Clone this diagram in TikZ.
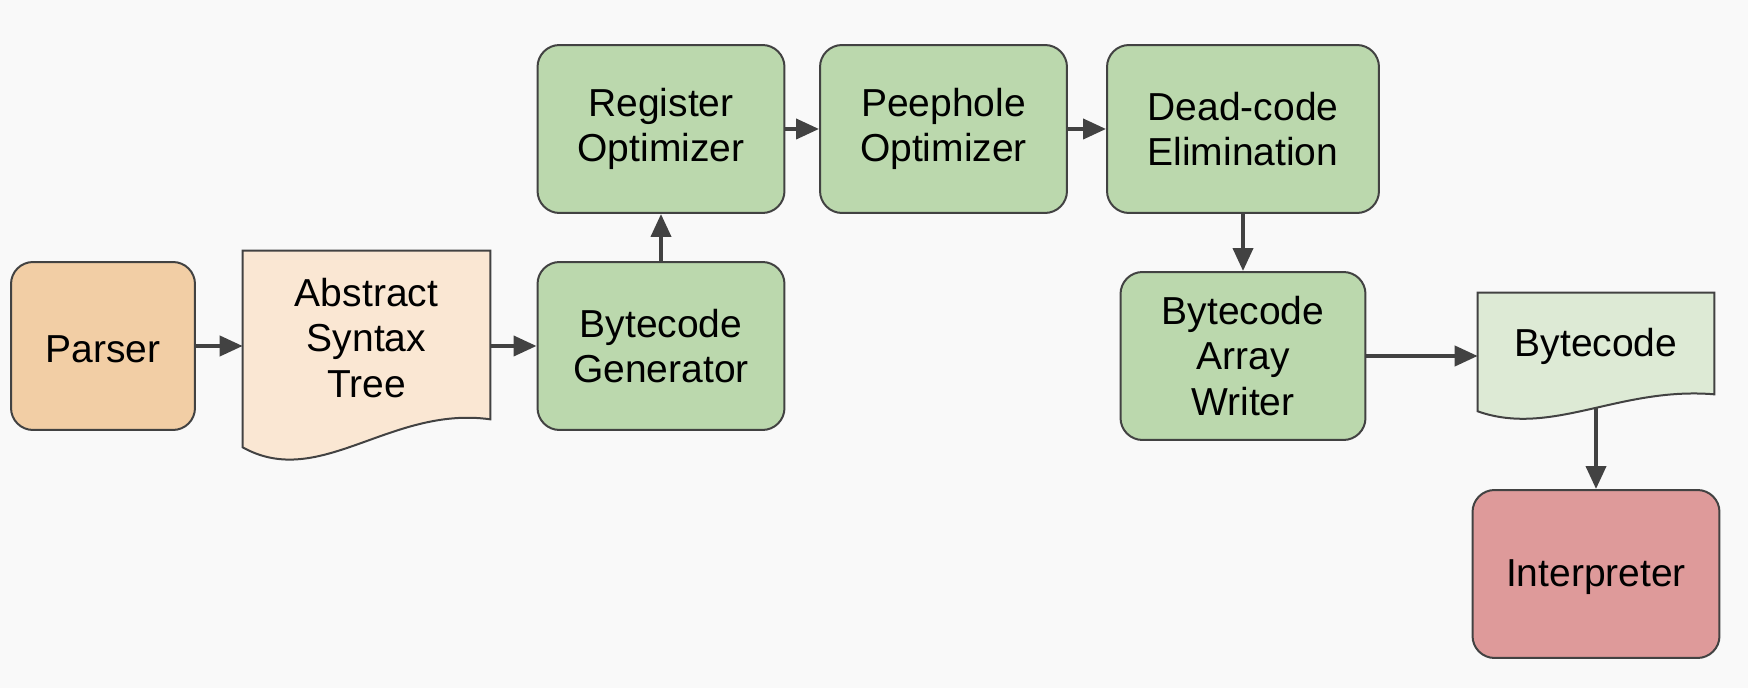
\documentclass[tikz,border=0pt]{standalone}
\usepackage{fontspec}
\setmainfont{Liberation Sans}
\usepackage{tikz}
\usetikzlibrary{arrows.meta,calc,backgrounds}
\usepackage{xcolor}

\definecolor{paperGray}{HTML}{F9F9F9}
\definecolor{lineGray}{HTML}{424242}
\definecolor{parserOrange}{HTML}{F2CEA5}
\definecolor{astOrange}{HTML}{FAE7D3}
\definecolor{passGreen}{HTML}{BBD8AD}
\definecolor{bcGreen}{HTML}{DDEAD5}
\definecolor{interpRed}{HTML}{DE9A9A}

\begin{document}
\begin{tikzpicture}[x=0.02cm, y=-0.02cm,
    box/.style={draw=lineGray, line width=0.04cm, rounded corners=0.44cm,
      minimum width=4.94cm, minimum height=3.36cm, inner sep=0pt,
      align=center, font=\fontsize{22.2}{26}\selectfont,
      execute at begin node={\rule{0pt}{0.68cm}}},
    doc/.style={inner sep=0pt, align=center, font=\fontsize{22.2}{26}\selectfont},
    flow/.style={lineGray, line width=0.08cm, -{Triangle[length=0.46cm, width=0.4cm]}}]
    \coordinate (P1) at (103, 346);
    \coordinate (AST1) at (366.5, 338);
    \coordinate (BG1) at (661, 346);
    \coordinate (RO1) at (661, 129);
    \coordinate (PO1) at (943.5, 129);
    \coordinate (DCE1) at (1243, 129);
    \coordinate (BAW1) at (1243, 356);
    \coordinate (BC1) at (1596, 346);
    \coordinate (IN1) at (1596, 574);

    \node (P) [box, fill=parserOrange, minimum width=3.68cm] at (P1) {Parser};
    \node (AST) [doc, minimum width=4.94cm, minimum height=3.48cm] at (AST1) {Abstract\\Syntax\\Tree};
    \node (BG) [box, fill=passGreen] at (BG1) {Bytecode\\Generator};
    \node (RO) [box, fill=passGreen] at (RO1) {Register\\Optimizer};
    \node (PO) [box, fill=passGreen] at (PO1) {Peephole\\Optimizer};
    \node (DCE) [box, fill=passGreen, minimum width=5.44cm] at (DCE1) {Dead-code\\Elimination};
    \node (BAW) [box, fill=passGreen, minimum width=4.9cm] at (BAW1) {Bytecode\\Array\\Writer};
    \node (BC) [doc, minimum width=4.72cm, minimum height=2.12cm] at (BC1) {Bytecode};
    \node (IN) [box, fill=interpRed] at (IN1) {Interpreter};

    % document outlines and paper, under the text
    \begin{scope}[on background layer]
      \fill [paperGray] (0, 0) rectangle (1748, 688);
      \draw [lineGray, line width=0.04cm, fill=astOrange] (AST.north west) -- (AST.north east)
        -- ($(AST.south east)+(0,-6)$)
        .. controls ($(AST.south east)+(-100,-20)$) and ($(AST.south west)+(77,65)$) .. ($(AST.south west)+(0,22)$)
        -- cycle;
      \draw [lineGray, line width=0.04cm, fill=bcGreen] (BC.north west) -- (BC.north east)
        -- ($(BC.south east)+(0,-5)$)
        .. controls ($(BC.south east)+(-95,-13)$) and ($(BC.south west)+(74,38)$) .. ($(BC.south west)+(0,12)$)
        -- cycle;
    \end{scope}

    \coordinate (BCout) at ($(BC.south)+(0,8)$);

    \draw [flow] (P) -- (P -| AST.west);
    \draw [flow] (BG -| AST.east) -- (BG);
    \draw [flow] (BG) -- (RO);
    \draw [flow] (RO) -- (PO);
    \draw [flow] (PO) -- (DCE);
    \draw [flow] (DCE) -- (BAW);
    \draw [flow] (BAW) -- (BAW -| BC.west);
    \draw [flow] (BCout) -- (BCout |- IN.north);
  \end{tikzpicture}
\end{document}
